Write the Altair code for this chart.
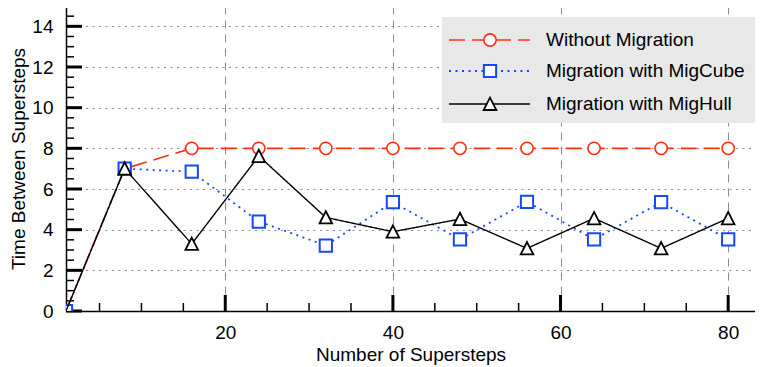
import altair as alt
import pandas as pd

# ---- data ----
steps = [1, 8, 16, 24, 32, 40, 48, 56, 64, 72, 80]
without_migration = [0, 7, 8, 8, 8, 8, 8, 8, 8, 8, 8]
with_migcube = [0, 7, 6.85, 4.4, 3.22, 5.35, 3.52, 5.37, 3.52, 5.35, 3.52]
with_mighull = [0, 7, 3.3, 7.62, 4.6, 3.9, 4.52, 3.08, 4.56, 3.08, 4.56]
series_names = ["Without Migration", "Migration with MigCube", "Migration with MigHull"]

x_major_ticks = [20, 40, 60, 80]
x_minor_ticks = [5, 10, 15, 25, 30, 35, 45, 50, 55, 65, 70, 75]
y_major_ticks = [0, 2, 4, 6, 8, 10, 12, 14]
y_minor_ticks = [0.5, 1, 1.5, 2.5, 3, 3.5, 4.5, 5, 5.5, 6.5, 7, 7.5,
                 8.5, 9, 9.5, 10.5, 11, 11.5, 12.5, 13, 13.5, 14.5]

# ---- styling ----
W, H = 689, 305
FONT = "Liberation Sans"
FS = 19
RED, BLUE, BLACK = "#ff3010", "#1747ff", "#000000"
TRI = "M0,-1L1,0.95L-1,0.95Z"

styles = {
    "Without Migration": dict(color=RED, dash=[16, 7], width=1.6, shape="circle", size=150, sw=1.6),
    "Migration with MigCube": dict(color=BLUE, dash=[2, 4.5], width=1.8, shape="square", size=150, sw=2),
    "Migration with MigHull": dict(color=BLACK, dash=[1, 0], width=1.4, shape=TRI, size=160, sw=1.8),
}
values = {
    "Without Migration": without_migration,
    "Migration with MigCube": with_migcube,
    "Migration with MigHull": with_mighull,
}

xs = alt.Scale(domain=[1, 83.2], nice=False, zero=False)
ys = alt.Scale(domain=[0, 15], nice=False, zero=False)

x_axis = alt.Axis(values=x_major_ticks, title="Number of Supersteps", grid=True,
                  gridDash=[8, 6], gridColor="#8c8c8c", gridWidth=1, ticks=False,
                  domainColor="black", domainWidth=1.5, labelFontSize=FS, labelFont=FONT,
                  labelColor="black", labelPadding=12, titleFont=FONT, titleFontSize=FS,
                  titleFontWeight="normal", titleColor="black",
                  titleBaseline="alphabetic", titleY=49)
y_axis = alt.Axis(values=y_major_ticks,
                  title="Time Between Supersteps", grid=True,
                  gridDash=[2, 4.5], gridColor="#8c8c8c", gridWidth=1, ticks=False,
                  domainColor="black", domainWidth=1.5, labelFontSize=FS, labelFont=FONT,
                  labelColor="black", labelPadding=13, titleFont=FONT, titleFontSize=FS,
                  titleFontWeight="normal", titleColor="black", titlePadding=3)

layers = []

# inward ticks
xt_major = alt.Chart(pd.DataFrame({"t": x_major_ticks})).mark_rule(color="black", strokeWidth=3).encode(
    x=alt.X("t:Q", scale=xs, axis=x_axis), y=alt.value(H), y2=alt.value(H - 16))
xt_minor = alt.Chart(pd.DataFrame({"t": x_minor_ticks})).mark_rule(color="black", strokeWidth=1.5).encode(
    x=alt.X("t:Q", scale=xs, axis=x_axis), y=alt.value(H), y2=alt.value(H - 8))
yt_major = alt.Chart(pd.DataFrame({"t": y_major_ticks})).mark_rule(color="black", strokeWidth=3).encode(
    y=alt.Y("t:Q", scale=ys, axis=y_axis), x=alt.value(0), x2=alt.value(16))
yt_minor = alt.Chart(pd.DataFrame({"t": y_minor_ticks})).mark_rule(color="black", strokeWidth=1.5).encode(
    y=alt.Y("t:Q", scale=ys, axis=y_axis), x=alt.value(0), x2=alt.value(8))
top_border = alt.Chart(pd.DataFrame({"a": [0]})).mark_rule(color="black", strokeWidth=1.5).encode(
    x=alt.value(0), x2=alt.value(W), y=alt.value(0))
layers += [xt_major, xt_minor, yt_major, yt_minor, top_border]

# series
for name in series_names:
    st = styles[name]
    df = pd.DataFrame({"step": steps, "value": values[name]})
    line = alt.Chart(df).mark_line(color=st["color"], strokeDash=st["dash"], strokeWidth=st["width"],
                                   clip=True).encode(
        x=alt.X("step:Q", scale=xs, axis=x_axis), y=alt.Y("value:Q", scale=ys, axis=y_axis))
    pts_df = df if name == "Migration with MigCube" else df.iloc[1:]
    pts = alt.Chart(pts_df).mark_point(shape=st["shape"], size=st["size"], filled=True, fill="white",
                                       stroke=st["color"], strokeWidth=st["sw"], opacity=1,
                                       fillOpacity=1, clip=True).encode(
        x=alt.X("step:Q", scale=xs, axis=x_axis), y=alt.Y("value:Q", scale=ys, axis=y_axis))
    layers += [line, pts]

# legend
LX0, LX1, LY0, LY1 = 376, 689, 11, 117
rows_y = [34, 65, 98]
leg_box = alt.Chart(pd.DataFrame({"a": [0]})).mark_rect(color="#e8e8e8").encode(
    x=alt.value(LX0), x2=alt.value(LX1), y=alt.value(LY0), y2=alt.value(LY1))
layers.append(leg_box)
for name, ry in zip(series_names, rows_y):
    st = styles[name]
    d = pd.DataFrame({"name": [name]})
    seg = alt.Chart(d).mark_rule(color=st["color"], strokeDash=st["dash"], strokeWidth=st["width"]).encode(
        x=alt.value(383), x2=alt.value(464), y=alt.value(ry))
    mk = alt.Chart(d).mark_point(shape=st["shape"], size=st["size"], filled=True, fill="white",
                                 stroke=st["color"], strokeWidth=st["sw"], opacity=1, fillOpacity=1).encode(
        x=alt.value(424), y=alt.value(ry))
    tx = alt.Chart(d).mark_text(align="left", baseline="middle", font=FONT, fontSize=FS, color="black").encode(
        x=alt.value(480), y=alt.value(ry), text="name:N")
    layers += [seg, mk, tx]

chart = alt.layer(*layers).properties(
    width=W, height=H, autosize="none",
    padding={"left": 58, "top": -2, "right": 0, "bottom": 56},
).configure_view(strokeWidth=0).configure(background="white")

chart.save("out.html", embed_options={"renderer": "svg", "actions": False})
